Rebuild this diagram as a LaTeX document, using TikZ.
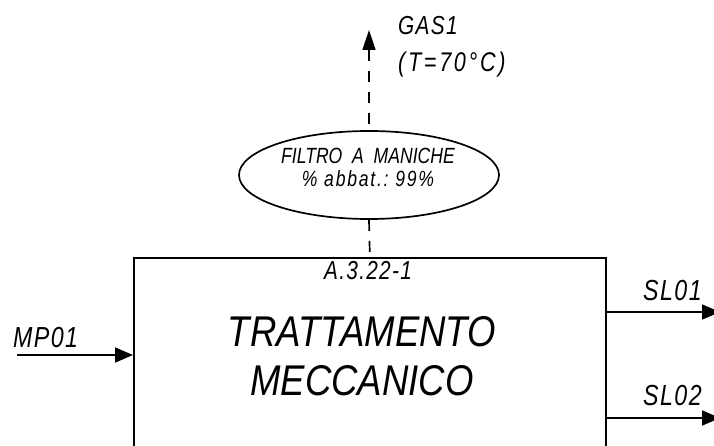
\documentclass[tikz,border=0pt]{standalone}
\usepackage{fontspec}
\setmainfont{Liberation Sans}
\newfontfamily\cadbig[FakeStretch=0.85]{Liberation Sans}
\newfontfamily\cadsmall[FakeStretch=0.8,LetterSpace=5]{Liberation Sans}
\usetikzlibrary{positioning,arrows.meta,shapes.geometric}

\tikzset{
  cadline/.style={line width=1.7pt},
  cutline/.style={cadline,dash pattern=on 11pt off 10pt},
  flow/.style={cadline,-{Triangle[length=18pt,width=15pt]}},
  lbl/.style={inner sep=0pt,anchor=base west,font=\cadsmall\itshape\fontsize{29}{32}\selectfont},
}

\begin{document}
\begin{tikzpicture}[x=1pt,y=-1pt]
\useasboundingbox (0,0) rectangle (714,446);
\clip (0,0) rectangle (714,446);
% Process block (cut off at the bottom)
\node[cadline,draw,anchor=north west,minimum width=472pt,minimum height=240pt,inner sep=0pt]
  (proc) at (133,257) {};
\node[inner sep=0pt,align=center,font=\cadbig\itshape\fontsize{43}{49}\selectfont]
  (procname) at (362,356) {TRATTAMENTO\\MECCANICO};
\node[inner sep=0pt,font=\cadsmall\itshape\fontsize{26}{28}\selectfont] (proctag) at (368,271) {A.3.22-1};
% Bag filter on the gas outlet
\node[cadline,draw,ellipse,minimum width=260pt,minimum height=88pt,inner sep=0pt] (filtro) at (369,175) {};
\node[inner sep=0pt,align=center,font=\cadsmall\itshape\fontsize{22}{23}\selectfont] (filtrotxt) at (368,167)
  {\addfontfeature{LetterSpace=0}FILTRO\ \ A\ \ MANICHE\\\addfontfeature{LetterSpace=8}\%\ abbat.:\ 99\%};
\draw[cutline] (filtro.south) -- (proc.north);
\coordinate (gas) at (369,30);
\draw[cutline,{Triangle[length=20pt,width=13pt]}-] (gas) -- (filtro.north);
\node[lbl,font=\cadsmall\itshape\fontsize{26}{28}\selectfont] (gaslbl) at (398,35) {GAS1};
\node[lbl,font=\cadsmall\itshape\fontsize{27}{28}\selectfont\addfontfeature{LetterSpace=10}]
  (gastemp) at (398,72) {(T=70°C)};
% Input stream
\coordinate (mp) at (17,355);
\draw[flow] (mp) -- (mp -| proc.west);
\node[lbl] (mplbl) at (13,347) {MP01};
% Output streams
\coordinate (sl1) at (720,312);
\coordinate (sl2) at (720,418);
\draw[flow] (sl1 -| proc.east) -- (sl1);
\draw[flow] (sl2 -| proc.east) -- (sl2);
\node[lbl] (sl1lbl) at (643,300) {SL01};
\node[lbl] (sl2lbl) at (643,405) {SL02};
\end{tikzpicture}
\end{document}
